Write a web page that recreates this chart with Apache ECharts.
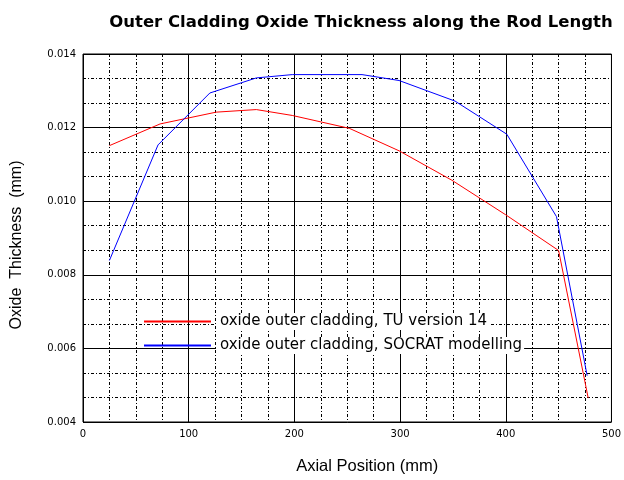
<!DOCTYPE html>
<html>
<head>
<meta charset="utf-8">
<script src="https://cdn.jsdelivr.net/npm/echarts@6/dist/echarts.min.js"></script>
<style>
	html, body { margin: 0; padding: 0; background: #fff; }
	#chart { width: 624px; height: 480px; }
</style>
</head>
<body>
<div id="chart"></div>
<script>
// 轴向位置 (mm) 与氧化层厚度 (mm)
var tuPos = [25, 73, 126, 164, 198, 252, 299, 349, 400, 450, 478];
var tuThick = [0.01151, 0.0121, 0.01242, 0.01249, 0.01233, 0.01198, 0.01137, 0.01057, 0.00963, 0.00866, 0.00465];
var socPos = [25, 71, 120, 164, 198, 264, 299, 352, 401, 448, 477];
var socThick = [0.00839, 0.01153, 0.01294, 0.01335, 0.01344, 0.01344, 0.01328, 0.01272, 0.01182, 0.00958, 0.00526];
var seriesNames = ['oxide outer cladding, TU version 14', 'oxide outer cladding, SOCRAT modelling'];

function pairs(xs, ys) {
	var out = [];
	for (var i = 0; i < xs.length; i++) out.push([xs[i], ys[i]]);
	return out;
}

var myChart = echarts.init(document.getElementById('chart'));
var font = 'Liberation Sans, Arial, sans-serif';
var wide = 'DejaVu Sans, sans-serif';
option = {
	backgroundColor: '#fff',
	animation: false,
	title: {
		text: 'Outer Cladding Oxide Thickness along the Rod Length',
		left: 356,
		textAlign: 'center',
		top: 9,
		textStyle: { fontFamily: wide, fontSize: 16.5, fontWeight: 'bold', color: '#000' }
	},
	legend: {
		orient: 'vertical',
		left: 139,
		top: 308,
		itemWidth: 67,
		itemHeight: 2,
		itemGap: 7,
		icon: 'rect',
		textStyle: {
			fontFamily: wide, fontSize: 15, color: '#000',
			backgroundColor: '#fff', padding: [1, 2, 1, 4]
		},
		data: seriesNames
	},
	grid: {
		left: 83,
		right: 11,
		top: 54,
		bottom: 54,
		show: true,
		borderColor: '#000',
		borderWidth: 1
	},
	xAxis: {
		type: 'value',
		min: 0,
		max: 500,
		interval: 100,
		name: 'Axial Position (mm)',
		nameLocation: 'middle',
		nameGap: 36,
		nameTextStyle: { fontFamily: font, fontSize: 16.5, color: '#000', padding: [0, 0, 0, 40] },
		axisLine: { show: false },
		axisTick: { show: false },
		axisLabel: { fontFamily: wide, fontSize: 10, color: '#000', margin: 7 },
		splitLine: { show: true, lineStyle: { color: '#000', width: 1 } },
		minorTick: { show: false, splitNumber: 4 },
		minorSplitLine: { show: true, lineStyle: { color: '#000', width: 1, type: [3, 2, 1, 2] } }
	},
	yAxis: {
		type: 'value',
		min: 0.004,
		max: 0.014,
		interval: 0.002,
		name: 'Oxide  Thickness  (mm)',
		nameLocation: 'middle',
		nameGap: 58,
		nameTextStyle: { fontFamily: font, fontSize: 16, color: '#000', padding: [0, 14, 0, 0] },
		axisLine: { show: false },
		axisTick: { show: false },
		axisLabel: {
			fontFamily: wide, fontSize: 10, color: '#000', margin: 7,
			formatter: function (v) { return v.toFixed(3); }
		},
		splitLine: { show: true, lineStyle: { color: '#000', width: 1 } },
		minorTick: { show: false, splitNumber: 3 },
		minorSplitLine: { show: true, lineStyle: { color: '#000', width: 1, type: [3, 2, 1, 2] } }
	},
	series: [
		{
			type: 'line',
			name: seriesNames[0],
			data: pairs(tuPos, tuThick),
			showSymbol: false,
			color: '#ff0000',
			lineStyle: { width: 1, color: '#ff0000' }
		},
		{
			type: 'line',
			name: seriesNames[1],
			data: pairs(socPos, socThick),
			showSymbol: false,
			color: '#0000ff',
			lineStyle: { width: 1, color: '#0000ff' }
		}
	]
};
myChart.setOption(option);
</script>
</body>
</html>
